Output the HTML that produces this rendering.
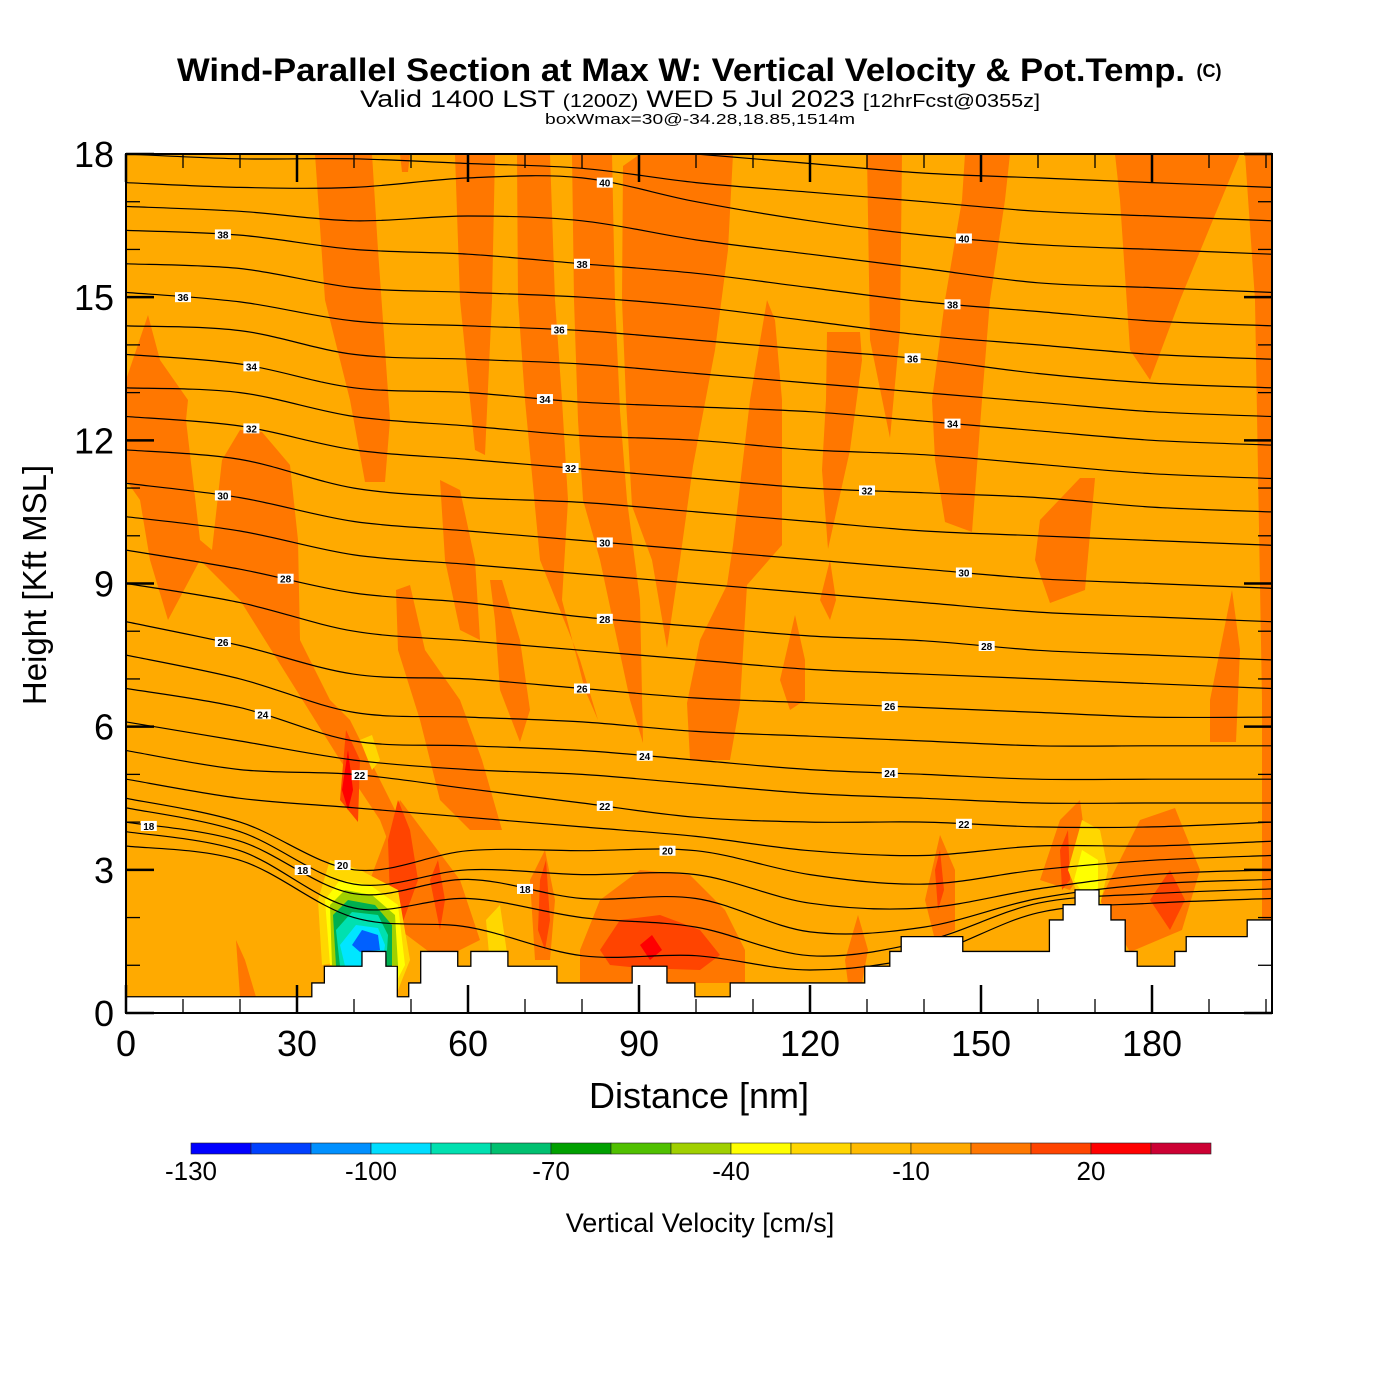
<!DOCTYPE html>
<html><head><meta charset="utf-8"><style>
body{margin:0;background:#fff;}
svg{display:block;font-family:"Liberation Sans",sans-serif;}
</style></head><body>
<svg id="chart" width="1400" height="1400" viewBox="0 0 1400 1400" xmlns="http://www.w3.org/2000/svg">
<text x="681" y="81" text-anchor="middle" font-size="32" font-weight="bold" textLength="1008" lengthAdjust="spacingAndGlyphs">Wind-Parallel Section at Max W: Vertical Velocity &amp; Pot.Temp.</text>
<text x="1209" y="77" text-anchor="middle" font-size="18" font-weight="bold">(C)</text>
<text x="700" y="107" text-anchor="middle" font-size="24" textLength="680" lengthAdjust="spacingAndGlyphs"><tspan>Valid 1400 LST </tspan><tspan font-size="18">(1200Z)</tspan><tspan> WED 5 Jul 2023 </tspan><tspan font-size="18">[12hrFcst@0355z]</tspan></text>
<text x="700" y="124" text-anchor="middle" font-size="15" textLength="310" lengthAdjust="spacingAndGlyphs">boxWmax=30@-34.28,18.85,1514m</text>
<clipPath id="pc"><rect x="126" y="154" width="1146" height="859"/></clipPath>
<g id="plot" clip-path="url(#pc)">
<rect x="126" y="154" width="1146" height="859" fill="#ffaa00"/>
<g id="fills" fill="#ff7700">
<polygon points="126,380 148,315 160,360 188,400 186,420 200,540 212,550 222,460 240,430 262,432 290,465 298,540 300,640 330,700 350,720 380,780 400,820 420,860 410,900 380,820 340,760 290,680 240,600 200,560 168,620 150,560 140,500 126,480"/>
<polygon points="315,154 372,154 378,250 390,420 385,482 365,482 350,400 325,300"/>
<polygon points="400,154 410,154 408,172 402,172"/>
<polygon points="455,154 495,154 492,300 485,455 475,450 460,300"/>
<polygon points="517,154 550,154 555,300 562,400 568,500 562,600 585,690 598,720 580,660 540,560 525,400 518,300"/>
<polygon points="572,154 612,154 615,300 620,411 627,500 640,600 643,743 630,700 600,560 583,500 578,420 574,300"/>
<polygon points="623,166 640,154 733,154 728,250 715,350 693,466 680,560 667,648 652,560 632,506 626,400 622,300"/>
<polygon points="767,300 775,320 782,400 782,545 747,585 740,703 730,760 690,760 687,703 700,640 727,585 733,545 750,400"/>
<polygon points="827,332 860,332 862,360 850,450 828,549 822,470 826,400"/>
<polygon points="867,154 902,154 900,330 890,438 870,340"/>
<polygon points="1010,154 1005,200 990,300 982,400 972,532 945,522 935,460 932,400 945,300 962,200 965,154"/>
<polygon points="1115,154 1240,154 1180,300 1150,380 1130,350 1120,200"/>
<polygon points="1245,154 1272,154 1272,1000 1262,950 1262,700 1255,300"/>
<polygon points="1040,520 1080,478 1095,478 1085,590 1050,603 1035,560"/>
<polygon points="1210,700 1232,590 1240,650 1236,742 1210,742"/>
<polygon points="580,950 600,900 640,870 690,875 725,910 745,950 745,983 580,983"/>
<polygon points="1100,900 1140,820 1175,808 1200,870 1182,930 1130,952"/>
<polygon points="396,590 410,585 425,650 460,700 482,760 502,830 470,830 440,800 420,720 398,650"/>
<polygon points="490,580 502,580 520,640 530,710 520,742 500,690 495,620"/>
<polygon points="440,480 460,490 475,560 480,640 460,630 445,560"/>
<polygon points="780,680 795,615 805,660 805,700 790,710"/>
<polygon points="370,880 400,800 430,840 460,880 480,940 440,960 400,930"/>
<polygon points="530,880 545,850 555,900 550,960 535,960"/>
<polygon points="925,900 940,835 955,870 955,930 935,940"/>
<polygon points="236,940 245,960 256,997 240,997"/>
<polygon points="845,960 858,915 868,950 862,983 848,983"/>
<polygon points="1040,880 1060,820 1080,800 1088,860 1070,890"/>
<polygon points="820,600 830,560 836,600 830,620"/>
<g fill="#ff4400">
<polygon points="340,800 346,730 360,760 358,822"/>
<polygon points="388,840 398,800 410,830 418,880 400,930 390,900"/>
<polygon points="430,880 438,860 445,900 440,930"/>
<polygon points="600,950 620,920 660,915 700,930 720,955 700,970 640,968 610,965"/>
<polygon points="540,880 546,860 550,920 545,950 538,930"/>
<polygon points="935,870 940,850 944,890 938,910"/>
<polygon points="1060,850 1068,830 1070,880 1062,890"/>
<polygon points="1150,900 1170,870 1185,900 1170,930"/>
</g>
<g fill="#ff0000"><polygon points="342,790 348,750 353,790 348,810"/><polygon points="640,945 652,935 662,950 650,960"/></g>
<g fill="#ffd700">
<polygon points="318,900 330,860 360,870 398,890 410,960 398,990 378,960 350,960 322,965"/>
<polygon points="486,920 500,905 508,960 490,965"/>
<polygon points="1068,870 1082,820 1100,830 1108,870 1100,905 1078,895"/>
<polygon points="360,740 372,735 380,760 372,770"/>
</g>
<g fill="#ffff00"><polygon points="325,900 340,880 370,885 398,905 405,965 392,990 380,960 330,965"/><polygon points="1074,880 1082,850 1098,860 1098,890 1082,892"/></g>
<g fill="#a0d000"><polygon points="330,905 345,890 372,895 395,915 398,965 385,965 332,966"/></g>
<g fill="#00b050"><polygon points="333,915 348,900 375,905 392,925 392,966 336,966"/></g>
<g fill="#00e0b0"><polygon points="336,930 352,912 378,915 388,935 386,966 340,966"/></g>
<g fill="#00e6ff"><polygon points="340,945 356,925 378,928 385,945 382,966 345,966"/></g>
<g fill="#0060ff"><polygon points="352,945 362,930 378,935 380,950 360,952"/></g>
</g>
<g id="isentropes"></g>
<g id="terrain"></g>
</g>
<g id="axes"></g>
<g id="colorbar"></g>
<text x="700" y="1232" text-anchor="middle" font-size="27">Vertical Velocity [cm/s]</text>
<text x="699" y="1108" text-anchor="middle" font-size="36">Distance [nm]</text>
<text x="46" y="585" text-anchor="middle" font-size="33" transform="rotate(-90 46 585)">Height [Kft MSL]</text>
</svg>
<script>
const thetaLevels=[42,41,40,39,38,37,36,35,34,33,32,31,30,29,28,27,26,25,24,23,22,21,20,19,18,17,16];
const thetaXs=[0,20,40,60,80,100,120,140,160,180,201];
const th42=[18.6,18.5,18.4,18.3,18.2,18.0,17.8,17.6,17.5,17.4,17.3];
const th41=[18.0,17.9,17.9,17.8,17.7,17.4,17.2,17.0,16.8,16.7,16.6];
const th40=[17.4,17.3,17.3,17.5,17.5,17.0,16.6,16.3,16.1,16.0,15.9];
const th39=[16.9,16.8,16.6,16.7,16.6,16.2,15.9,15.6,15.3,15.2,15.1];
const th38=[16.4,16.3,16.0,15.9,15.7,15.5,15.2,14.9,14.7,14.5,14.4];
const th37=[15.7,15.6,15.2,15.1,15.0,14.8,14.5,14.2,14.0,13.8,13.7];
const th36=[15.1,14.9,14.5,14.4,14.3,14.1,13.9,13.7,13.4,13.2,13.1];
const th35=[14.4,14.3,13.8,13.7,13.6,13.4,13.2,13.0,12.8,12.6,12.5];
const th34=[13.8,13.6,13.1,13.0,12.8,12.7,12.6,12.4,12.2,12.0,11.9];
const th33=[13.1,13.0,12.5,12.3,12.1,12.0,11.8,11.7,11.5,11.3,11.2];
const th32=[12.5,12.3,11.8,11.6,11.4,11.2,11.0,10.9,10.8,10.6,10.5];
const th31=[11.8,11.6,11.0,10.8,10.7,10.5,10.3,10.1,10.0,9.9,9.8];
const th30=[11.1,10.8,10.3,10.1,9.9,9.7,9.5,9.3,9.1,9.0,8.9];
const th29=[10.4,10.1,9.6,9.4,9.2,9.0,8.8,8.6,8.4,8.3,8.2];
const th28=[9.7,9.3,8.8,8.6,8.3,8.1,7.9,7.8,7.6,7.5,7.4];
const th27=[9.0,8.6,8.0,7.8,7.6,7.4,7.2,7.1,7.0,6.9,6.8];
const th26=[8.2,7.7,7.1,7.0,6.8,6.6,6.5,6.4,6.3,6.2,6.2];
const th25=[7.5,7.0,6.3,6.2,6.1,5.9,5.8,5.7,5.6,5.6,5.6];
const th24=[6.8,6.4,5.7,5.6,5.5,5.3,5.1,5.0,4.9,4.9,4.9];
const th23=[6.1,5.7,5.3,5.1,5.0,4.8,4.6,4.5,4.4,4.4,4.4];
const th22=[5.5,5.1,5.0,4.7,4.4,4.1,4.0,4.0,3.9,3.9,4.0];
const th21=[4.9,4.5,4.3,4.1,3.9,3.7,3.4,3.3,3.5,3.5,3.6];
const th20=[4.5,4.0,3.0,3.4,3.4,3.4,2.9,2.7,3.0,3.2,3.3];
const th19=[4.3,3.8,2.7,3.0,2.9,2.9,2.3,2.2,2.6,2.9,3.0];
const th18=[4.0,3.6,2.5,2.8,2.4,2.4,1.7,1.8,2.4,2.7,2.8];
const th17=[3.8,3.4,2.2,2.4,2.0,1.8,1.2,1.5,2.3,2.5,2.6];
const th16=[3.5,3.2,2.0,1.8,1.2,1.2,0.9,1.2,2.1,2.3,2.4];
const thetaSeries=[th42,th41,th40,th39,th38,th37,th36,th35,th34,th33,th32,th31,th30,th29,th28,th27,th26,th25,th24,th23,th22,th21,th20,th19,th18,th17,th16];
const thetaLabelLevels=[40,40,38,38,38,36,36,36,34,34,34,32,32,32,30,30,30,28,28,28,26,26,26,24,24,24,22,22,22,20,20,18,18,18];
const thetaLabelXs=[84,147,17,80,145,10,76,138,22,73.5,145,22,78,130,17,84,147,28,84,151,17,80,134,24,91,134,41,84,147,38,95,4,31,70];
const terrainStartX=[0,32.6,34.8,41.4,45.6,47.6,49.6,51.7,58.2,60.5,67,75.6,88.8,94.9,99.8,106,129.6,134,136,146.8,162,164.4,166.5,170.7,172.8,175.3,177.4,184,186,196.7];
const terrainHeight=[0.34,0.63,0.98,1.29,0.98,0.34,0.63,1.29,0.98,1.29,0.98,0.63,0.98,0.63,0.34,0.63,0.98,1.29,1.6,1.29,1.95,2.27,2.58,2.27,1.95,1.29,0.98,1.29,1.6,1.95];
const xTicks=[0,30,60,90,120,150,180];
const yTicks=[0,3,6,9,12,15,18];
const cbBounds=[-130,-120,-110,-100,-90,-80,-70,-60,-50,-40,-30,-20,-10,0,10,20,30,40];
const cbColors=["#0000ff","#0040ff","#0090ff","#00ddff","#00e0b0","#00c070","#00a000","#50c000","#a0d000","#ffff00","#ffd700","#ffbb00","#ffaa00","#ff7700","#ff4400","#ff0000","#cc0033"];
const cbLabels=[-130,-100,-70,-40,-10,20];

const NS="http://www.w3.org/2000/svg";
const X0=126,X1=1272,Y0=1013,Y1=154,XMAX=(1272-126)/5.7;
const sx=v=>X0+v*5.7;
const sy=v=>Y0-v*(Y0-Y1)/18;
const cx=v=>191+(v+130)*6;
function mk(tag,attrs,parent){const e=document.createElementNS(NS,tag);for(const k in attrs)e.setAttribute(k,attrs[k]);parent.appendChild(e);return e;}
function interpY(arr,x){for(let i=0;i<thetaXs.length-1;i++){if(x>=thetaXs[i]&&x<=thetaXs[i+1]){const t=(x-thetaXs[i])/(thetaXs[i+1]-thetaXs[i]);return arr[i]+t*(arr[i+1]-arr[i]);}}return arr[arr.length-1];}
function smoothPath(pts){let d=`M${pts[0][0]},${pts[0][1]}`;for(let i=0;i<pts.length-1;i++){const p0=pts[Math.max(0,i-1)],p1=pts[i],p2=pts[i+1],p3=pts[Math.min(pts.length-1,i+2)];const c1=[p1[0]+(p2[0]-p0[0])/6,p1[1]+(p2[1]-p0[1])/6],c2=[p2[0]-(p3[0]-p1[0])/6,p2[1]-(p3[1]-p1[1])/6];d+=` C${c1[0].toFixed(1)},${c1[1].toFixed(1)} ${c2[0].toFixed(1)},${c2[1].toFixed(1)} ${p2[0].toFixed(1)},${p2[1].toFixed(1)}`;}return d;}
const iso=document.getElementById('isentropes');
thetaSeries.forEach((arr,k)=>{
  const pts=thetaXs.map((x,i)=>[sx(x),sy(arr[i])]);
  const p=mk('path',{d:smoothPath(pts),fill:'none',stroke:'#000','stroke-width':1.2},iso);
  
  
});
thetaLabelLevels.forEach((lv,i)=>{
  const arr=thetaSeries[thetaLevels.indexOf(lv)];
  const x=sx(thetaLabelXs[i]),y=sy(interpY(arr,thetaLabelXs[i]));
  const g=mk('g',{},iso);
  
  
  mk('rect',{x:x-8,y:y-5,width:16,height:10,fill:'#fff'},g);
  const t=mk('text',{x:x,y:y+4,'text-anchor':'middle','font-size':10,'font-weight':'bold'},g);t.textContent=lv;
});
const ter=document.getElementById('terrain');
let d=`M${X0},${Y0+2}`;
terrainStartX.forEach((x,i)=>{const xe=i<terrainStartX.length-1?terrainStartX[i+1]:XMAX;d+=` L${sx(x)},${sy(terrainHeight[i])} L${sx(xe)},${sy(terrainHeight[i])}`;});
d+=` L${X1},${Y0+2} Z`;
const tp=mk('path',{d:d,fill:'#fff',stroke:'#000','stroke-width':1.3},ter);


const ax=document.getElementById('axes');
mk('rect',{x:X0,y:Y1,width:X1-X0,height:Y0-Y1,fill:'none',stroke:'#000','stroke-width':2},ax);
for(let v=0;v<=200;v+=10){const maj=v%30===0;const L=maj?28:14;
  mk('line',{x1:sx(v),x2:sx(v),y1:Y0,y2:Y0-L,stroke:'#000','stroke-width':maj?2.5:1.3},ax);
  mk('line',{x1:sx(v),x2:sx(v),y1:Y1,y2:Y1+L,stroke:'#000','stroke-width':maj?2.5:1.3},ax);}
for(let v=0;v<=18;v+=1){const maj=v%3===0;const L=maj?28:14;
  mk('line',{x1:X0,x2:X0+L,y1:sy(v),y2:sy(v),stroke:'#000','stroke-width':maj?2.5:1.3},ax);
  mk('line',{x1:X1,x2:X1-L,y1:sy(v),y2:sy(v),stroke:'#000','stroke-width':maj?2.5:1.3},ax);}
xTicks.forEach(v=>{const t=mk('text',{x:sx(v),y:1056,'text-anchor':'middle','font-size':36},ax);t.textContent=v;
  
  });
yTicks.forEach(v=>{const t=mk('text',{x:114,y:sy(v)+13,'text-anchor':'end','font-size':36},ax);t.textContent=v;
  
  });
const cb=document.getElementById('colorbar');
cbColors.forEach((c,i)=>{const r=mk('rect',{x:cx(cbBounds[i]),y:1143,width:cx(cbBounds[i+1])-cx(cbBounds[i]),height:11,fill:c,stroke:'#222','stroke-width':0.6},cb);
  
  });
cbLabels.forEach(v=>{const t=mk('text',{x:cx(v),y:1180,'text-anchor':'middle','font-size':26},cb);t.textContent=v;
  
  });
</script>
</body></html>
